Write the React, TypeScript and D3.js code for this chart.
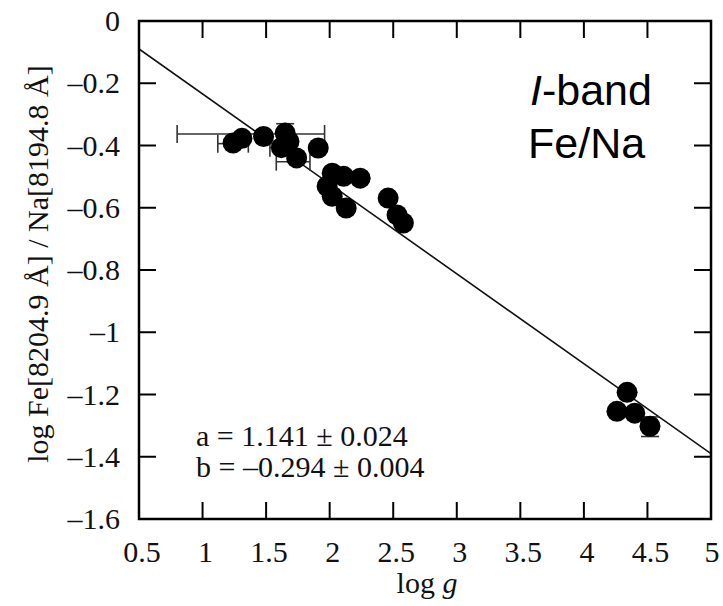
import React from "react";
import * as d3 from "d3";

const W = 723, H = 606;
const M = { left: 139, top: 21, right: 711, bottom: 519 };

const xTicks = [0.5, 1, 1.5, 2, 2.5, 3, 3.5, 4, 4.5, 5];
const yTicks = [0, -0.2, -0.4, -0.6, -0.8, -1, -1.2, -1.4, -1.6];

const logg = [1.24, 1.31, 1.48, 1.65, 1.62, 1.68, 1.74, 1.91, 2.02, 2.11, 2.24, 1.98, 2.02, 2.13, 2.46, 2.53, 2.58, 4.34, 4.26, 4.40, 4.52];
const ratio = [-0.392, -0.377, -0.371, -0.36, -0.407, -0.387, -0.44, -0.408, -0.489, -0.499, -0.505, -0.531, -0.563, -0.601, -0.569, -0.623, -0.649, -1.193, -1.254, -1.26, -1.302];

// horizontal error bars
const hebY = [-0.363, -0.394, -0.407, -0.452];
const hebLo = [0.8, 1.12, 1.53, 1.58];
const hebHi = [1.96, 1.36, 1.72, 1.845];
// vertical error bars
const vebX = [1.65, 4.52];
const vebLo = [-0.39, -1.335];
const vebHi = [-0.33, -1.272];

// fitted line
const fitX = [0.5, 5];
const fitY = [-0.09, -1.39];

const serif = "'Liberation Serif', 'DejaVu Serif', serif";
const sans = "'Liberation Sans', Arial, sans-serif";

export default function App() {
  const x = d3.scaleLinear().domain([0.5, 5]).range([M.left, M.right]);
  const y = d3.scaleLinear().domain([-1.6, 0]).range([M.bottom, M.top]);
  const line = d3.line<number>().x((d) => x(fitX[d])).y((d) => y(fitY[d]));
  const tl = 17;
  return (
    <svg width={W} height={H} style={{ position: "absolute", left: 0, top: 0, background: "#fff" }}>
      <defs>
        <clipPath id="pc">
          <rect x={M.left} y={M.top} width={M.right - M.left} height={M.bottom - M.top} />
        </clipPath>
      </defs>
      {xTicks.map((t, i) => (
        <g key={"xt" + i}>
          <line x1={x(t)} x2={x(t)} y1={M.bottom} y2={M.bottom - tl} stroke="#000" strokeWidth={2} />
          <line x1={x(t)} x2={x(t)} y1={M.top} y2={M.top + tl} stroke="#000" strokeWidth={2} />
          <text x={x(t) + (t === 5 ? 1 : 3)} y={562} textAnchor="middle" fontFamily={serif} fontSize={30} fill="#111">
            {String(t)}
          </text>
        </g>
      ))}
      {yTicks.map((t, i) => (
        <g key={"yt" + i}>
          <line x1={M.left} x2={M.left + tl} y1={y(t)} y2={y(t)} stroke="#000" strokeWidth={2} />
          <line x1={M.right} x2={M.right - tl} y1={y(t)} y2={y(t)} stroke="#000" strokeWidth={2} />
          <text x={120} y={y(t) + 10} textAnchor="end" fontFamily={serif} fontSize={30} fill="#111">
            {t === 0 ? "0" : "\u2013" + String(Math.abs(t))}
          </text>
        </g>
      ))}
      <g clipPath="url(#pc)">
        <path d={line([0, 1]) || ""} fill="none" stroke="#111" strokeWidth={1.6} />
        {hebY.map((v, i) => (
          <g key={"he" + i} stroke="#333" strokeWidth={1.6}>
            <line x1={x(hebLo[i])} x2={x(hebHi[i])} y1={y(v)} y2={y(v)} />
            <line x1={x(hebLo[i])} x2={x(hebLo[i])} y1={y(v) - 9} y2={y(v) + 9} />
            <line x1={x(hebHi[i])} x2={x(hebHi[i])} y1={y(v) - 9} y2={y(v) + 9} />
          </g>
        ))}
        {vebX.map((v, i) => (
          <g key={"ve" + i} stroke="#333" strokeWidth={1.6}>
            <line x1={x(v)} x2={x(v)} y1={y(vebLo[i])} y2={y(vebHi[i])} />
            <line x1={x(v) - 9} x2={x(v) + 9} y1={y(vebLo[i])} y2={y(vebLo[i])} />
            <line x1={x(v) - 9} x2={x(v) + 9} y1={y(vebHi[i])} y2={y(vebHi[i])} />
          </g>
        ))}
        {logg.map((v, i) => (
          <circle key={"p" + i} cx={x(v)} cy={y(ratio[i])} r={10.5} fill="#000" />
        ))}
      </g>
      <rect x={M.left} y={M.top} width={M.right - M.left} height={M.bottom - M.top} fill="none" stroke="#000" strokeWidth={2.5} />
      <text x={196} y={446} fontFamily={serif} fontSize={30} fill="#111">a = 1.141 ± 0.024</text>
      <text x={196} y={477} fontFamily={serif} fontSize={30} fill="#111">b = {"\u2013"}0.294 ± 0.004</text>
      <text x={530} y={105} fontFamily={sans} fontSize={43} fill="#000">
        <tspan fontStyle="italic">I</tspan>-band
      </text>
      <text x={528} y={158} fontFamily={sans} fontSize={43} fill="#000">Fe/Na</text>
      <text x={427} y={593} textAnchor="middle" fontFamily={serif} fontSize={30} fill="#111">
        log <tspan fontStyle="italic">g</tspan>
      </text>
      <text transform="translate(48,264) rotate(-90)" textAnchor="middle" fontFamily={serif} fontSize={30} fill="#111">
        log Fe[8204.9 Å] / Na[8194.8 Å]
      </text>
    </svg>
  );
}
